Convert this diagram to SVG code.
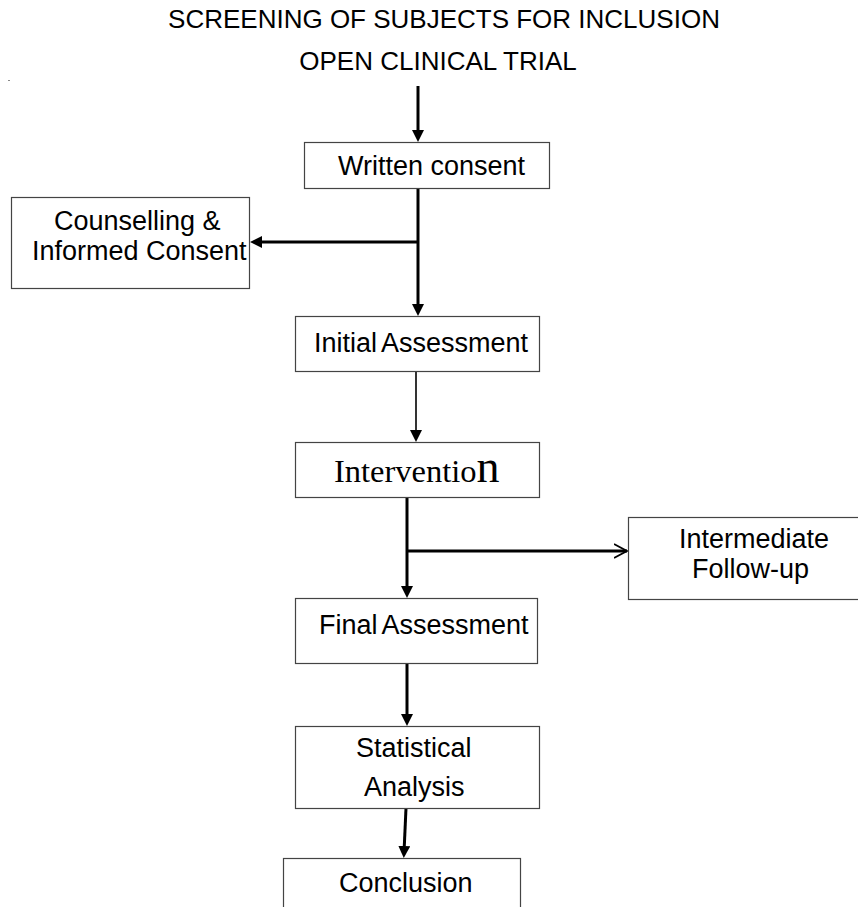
<svg xmlns="http://www.w3.org/2000/svg" width="858" height="907" viewBox="0 0 858 907">
<style>
.box{fill:#fff;stroke:#444;stroke-width:1.2}
.h{font-family:"Liberation Sans",Arial,sans-serif;font-size:26px;fill:#000}
.t{font-family:"Liberation Sans",Arial,sans-serif;font-size:27px;fill:#000}
.s{font-family:"Liberation Serif","Times New Roman",serif;font-size:32.5px;fill:#000}
.c{stroke:#000;stroke-width:3;fill:none}
.thin{stroke:#000;stroke-width:1.6;fill:none}
</style>
<defs>
<marker id="ah" markerUnits="userSpaceOnUse" viewBox="0 -6 12 12" refX="0" refY="0" markerWidth="12" markerHeight="12" orient="auto">
<path d="M0,-6 L12,0 L0,6 z" fill="#000"/>
</marker>
<marker id="open" markerUnits="userSpaceOnUse" viewBox="0 -8 14 16" refX="13" refY="0" markerWidth="14" markerHeight="16" orient="auto">
<path d="M0,-7 L13,0 L0,7" fill="none" stroke="#000" stroke-width="1.8"/>
</marker>
</defs>
<rect width="858" height="907" fill="#fff"/>
<rect x="8" y="80" width="2" height="1" fill="#888"/>
<g id="title">
<text class="h" x="444" y="28" text-anchor="middle">SCREENING OF SUBJECTS FOR INCLUSION</text>
<text class="h" x="438" y="70" text-anchor="middle">OPEN CLINICAL TRIAL</text>
</g>
<g id="connectors">
<line class="c" x1="418" y1="86" x2="418" y2="130" marker-end="url(#ah)"/>
<line class="c" x1="418" y1="189" x2="418" y2="304" marker-end="url(#ah)"/>
<line class="c" x1="418" y1="242" x2="262" y2="242" marker-end="url(#ah)"/>
<line class="thin" x1="416" y1="372" x2="416" y2="430" marker-end="url(#ah)"/>
<line class="c" x1="407" y1="497" x2="407" y2="586" marker-end="url(#ah)"/>
<line class="c" x1="407" y1="551" x2="627" y2="551" marker-end="url(#open)"/>
<line class="c" x1="407" y1="662" x2="407" y2="714" marker-end="url(#ah)"/>
<line class="c" x1="406" y1="808" x2="404.3" y2="846" marker-end="url(#ah)"/>
</g>
<g id="written-consent">
<rect class="box" x="304.5" y="142.5" width="245" height="46"/>
<text class="t" x="338" y="175">Written consent</text>
</g>
<g id="counselling">
<rect class="box" x="11.5" y="197.5" width="238" height="91"/>
<text class="t" x="54" y="230">Counselling &amp;</text>
<text class="t" x="32" y="260">Informed Consent</text>
</g>
<g id="initial-assessment">
<rect class="box" x="295.5" y="316.5" width="244" height="55"/>
<text class="t" x="314" y="352" word-spacing="-2">Initial Assessment</text>
</g>
<g id="intervention">
<rect class="box" x="295.5" y="442.5" width="244" height="55"/>
<text class="s" x="334" y="482">Interventio<tspan font-size="46">n</tspan></text>
</g>
<g id="intermediate">
<rect class="box" x="628.5" y="517.5" width="240" height="82"/>
<text class="t" x="679" y="548">Intermediate</text>
<text class="t" x="692" y="578">Follow-up</text>
</g>
<g id="final-assessment">
<rect class="box" x="295.5" y="598.5" width="242" height="65"/>
<text class="t" x="319" y="634" word-spacing="-2">Final Assessment</text>
</g>
<g id="statistical-analysis">
<rect class="box" x="295.5" y="726.5" width="244" height="82"/>
<text class="t" x="356" y="757">Statistical</text>
<text class="t" x="364" y="796">Analysis</text>
</g>
<g id="conclusion">
<rect class="box" x="283.5" y="858.5" width="237" height="60"/>
<text class="t" x="339" y="892">Conclusion</text>
</g>
</svg>
